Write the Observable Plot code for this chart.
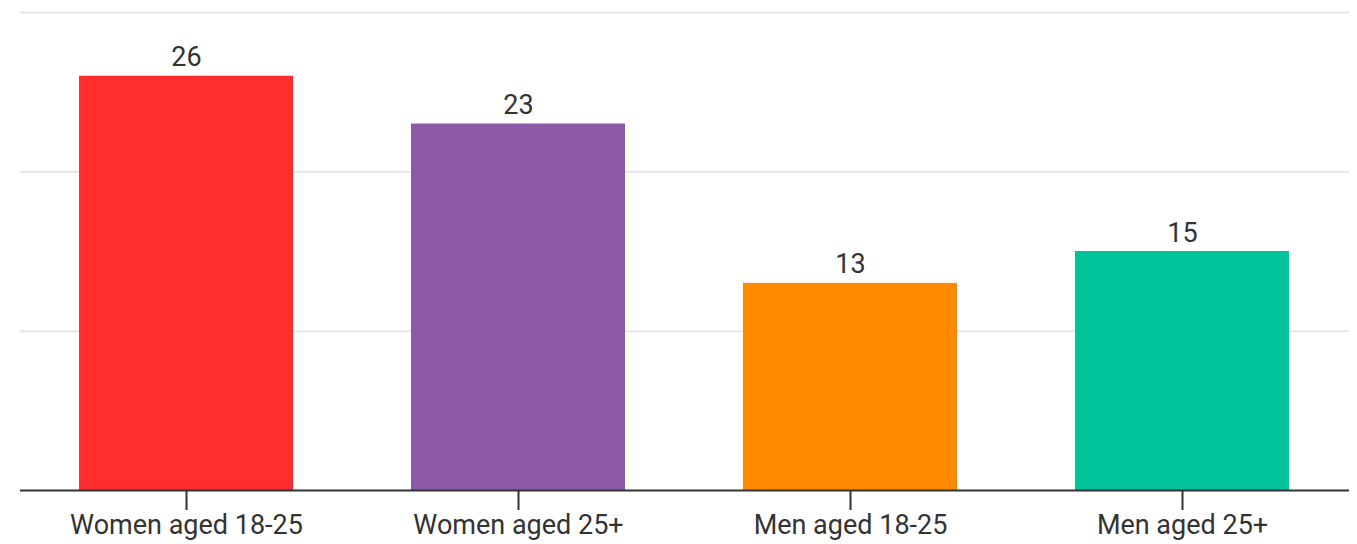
<!DOCTYPE html>
<html><head><meta charset="utf-8">
<script src="https://cdn.jsdelivr.net/npm/d3@7"></script>
<script src="https://cdn.jsdelivr.net/npm/@observablehq/plot@0.6"></script>
<style>body{margin:0;background:#fff}</style>
</head><body><div id="chart"></div>
<script>
const categories = ["Women aged 18-25", "Women aged 25+", "Men aged 18-25", "Men aged 25+"];
const values = [26, 23, 13, 15];
const colors = ["#ff2d2d", "#8b59a8", "#ff8a00", "#00c39a"];
const gridTicks = [10, 20, 30];

const data = categories.map((c, i) => ({category: c, value: values[i], color: colors[i]}));

const chart = Plot.plot({
  width: 1357,
  height: 544,
  marginTop: 12,
  marginBottom: 54,
  marginLeft: 20,
  marginRight: 8,
  style: {fontFamily: "Roboto", color: "#333", background: "#fff"},
  x: {domain: categories, paddingInner: 0.355, paddingOuter: 0.176, label: null},
  y: {domain: [0, 30], axis: null},
  marks: [
    Plot.ruleY(gridTicks, {stroke: "#e6e6e6", strokeWidth: 2}),
    Plot.barY(data, {x: "category", y: "value", fill: "color"}),
    Plot.text(data, {x: "category", y: "value", text: d => String(d.value), lineAnchor: "bottom", dy: -10, fontSize: 27, fill: "#333"}),
    Plot.ruleY([0], {stroke: "#333", strokeWidth: 2}),
    Plot.axisX({tickSize: 20, tickPadding: 4, fontSize: 27, stroke: "#333", strokeWidth: 2, fill: "#333"})
  ]
});
document.getElementById("chart").appendChild(chart);
</script>
</body></html>
